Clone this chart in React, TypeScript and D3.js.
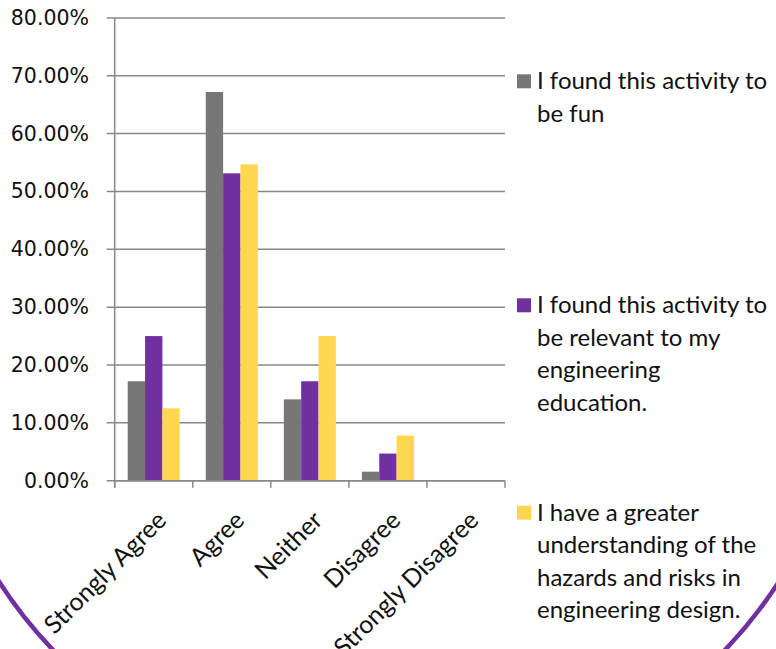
import React from "react";
import * as d3 from "d3";

const categories = ["Strongly Agree", "Agree", "Neither", "Disagree", "Strongly Disagree"];
const seriesNames = [
  "I found this activity to be fun",
  "I found this activity to be relevant to my engineering education.",
  "I have a greater understanding of the hazards and risks in engineering design.",
];
const funValues = [0.1719, 0.6719, 0.1406, 0.0156, 0];
const relevantValues = [0.25, 0.5313, 0.1719, 0.0469, 0];
const understandingValues = [0.125, 0.5469, 0.25, 0.0781, 0];
const legendLines = [
  ["I found this activity to", "be fun"],
  ["I found this activity to", "be relevant to my", "engineering", "education."],
  ["I have a greater", "understanding of the", "hazards and risks in", "engineering design."],
];
const yTicks = [0, 0.1, 0.2, 0.3, 0.4, 0.5, 0.6, 0.7, 0.8];

const colors = ["#777777", "#7030A0", "#FFD64F"];
const W = 776;
const H = 649;
const plot = { left: 114.7, right: 505, top: 17.9, bottom: 480.7 };
const legendTop = [89.3, 313.3, 520.7];
const lineH = 32.5;
const axisColor = "#888888";
const legendFont = "Lato, 'Noto Sans', sans-serif";

export default function App() {
  const values = [funValues, relevantValues, understandingValues];
  const y = d3.scaleLinear().domain([0, 0.8]).range([plot.bottom, plot.top]);
  const x0 = d3.scaleBand<string>().domain(categories).range([plot.left, plot.right]).padding(0);
  const x1 = d3
    .scaleBand<number>()
    .domain(d3.range(seriesNames.length))
    .range([0, x0.bandwidth()])
    .paddingInner(0)
    .paddingOuter(0.75);
  const fmt = d3.format(".2%");

  return (
    <svg
      width={W}
      height={H}
      viewBox={`0 0 ${W} ${H}`}
      style={{ position: "absolute", left: 0, top: 0, background: "#fff" }}
    >
      <defs>
        <clipPath id="bottomClip">
          <rect x={0} y={540} width={W} height={H - 540} />
        </clipPath>
      </defs>
      {/* gridlines */}
      {yTicks.map((t) => (
        <g key={t}>
          <line
            x1={plot.left - 8}
            x2={plot.right}
            y1={y(t)}
            y2={y(t)}
            stroke={axisColor}
            strokeWidth={1.5}
          />
          <text
            x={89}
            y={y(t) + 1}
            textAnchor="end"
            dominantBaseline="middle"
            fontFamily="'DejaVu Sans', sans-serif"
            fontSize={20.5}
            fill="#111"
          >
            {fmt(t)}
          </text>
        </g>
      ))}
      {/* y axis */}
      <line x1={plot.left} x2={plot.left} y1={plot.top} y2={plot.bottom + 7} stroke={axisColor} strokeWidth={1.5} />
      {/* x ticks */}
      {d3.range(categories.length + 1).map((i) => {
        const xx = plot.left + i * x0.step();
        return (
          <line key={i} x1={xx} x2={xx} y1={plot.bottom} y2={plot.bottom + 7} stroke={axisColor} strokeWidth={1.5} />
        );
      })}
      {/* bars */}
      {categories.map((c, ci) => (
        <g key={c} transform={`translate(${x0(c)},0)`}>
          {values.map((vals, si) => (
            <rect
              key={si}
              x={x1(si)}
              width={x1.bandwidth()}
              y={y(vals[ci])}
              height={plot.bottom - y(vals[ci])}
              fill={colors[si]}
            />
          ))}
        </g>
      ))}
      {/* x axis line on top */}
      <line x1={plot.left} x2={plot.right} y1={plot.bottom} y2={plot.bottom} stroke={axisColor} strokeWidth={1.5} />
      {/* x labels */}
      {categories.map((c) => {
        const cx = (x0(c) as number) + x0.bandwidth() / 2;
        return (
          <text
            key={c}
            transform={`translate(${cx},${plot.bottom + 27}) rotate(-45)`}
            textAnchor="end"
            dominantBaseline="hanging"
            fontFamily={legendFont}
            fontSize={25}
            fill="#111"
          >
            {c}
          </text>
        );
      })}
      {/* legend */}
      {legendLines.map((lines, li) => (
        <g key={li}>
          <rect x={517} y={legendTop[li] - 15} width={14} height={14} fill={colors[li]} />
          <text fontFamily={legendFont} fontSize={24} fill="#111">
            {lines.map((ln, k) => (
              <tspan key={k} x={537} y={legendTop[li] + k * lineH}>
                {ln}
              </tspan>
            ))}
          </text>
        </g>
      ))}
      {/* decorative border curve (bottom corners only) */}
      <circle
        cx={389}
        cy={330}
        r={464}
        fill="none"
        stroke="#7030A0"
        strokeWidth={4.5}
        clipPath="url(#bottomClip)"
      />
    </svg>
  );
}
